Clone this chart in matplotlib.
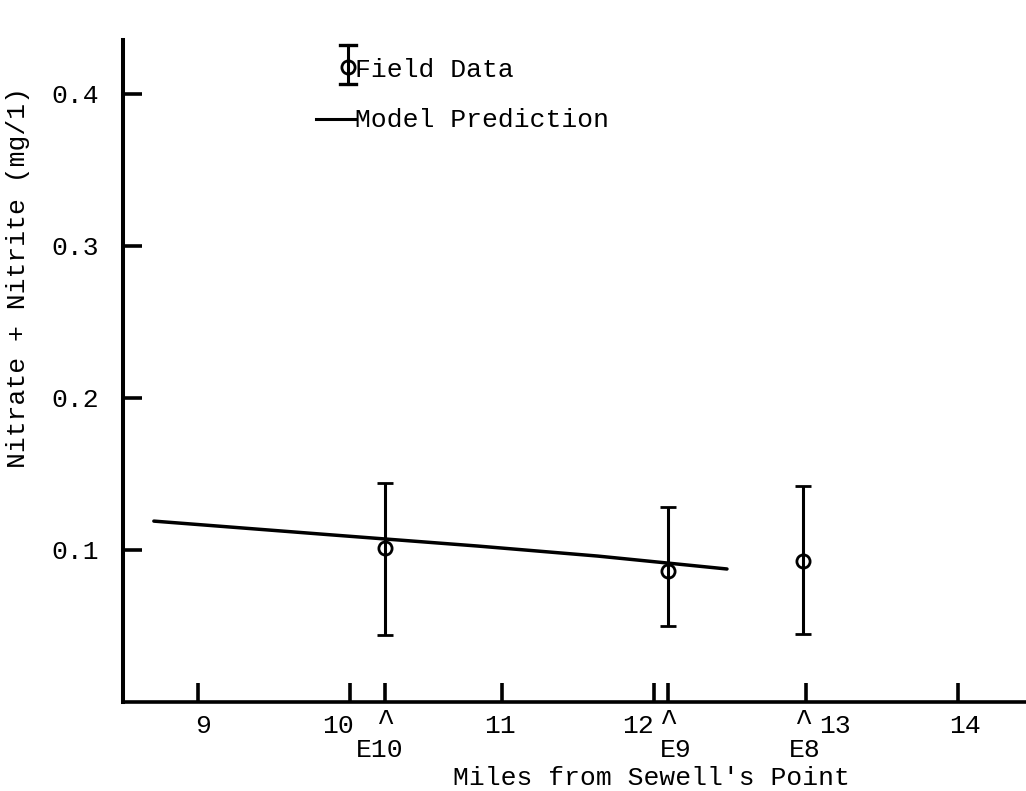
import matplotlib
matplotlib.use("Agg")
import matplotlib.pyplot as plt
import numpy as np

# ---------------- data ----------------
stations = ["E10", "E9", "E8"]
station_mile = [10.23, 12.09, 12.98]
field_mean = [0.101, 0.086, 0.093]
field_low = [0.044, 0.050, 0.045]
field_high = [0.144, 0.128, 0.142]

model_mile = [8.71, 9.87, 10.84, 11.63, 12.48]
model_value = [0.119, 0.110, 0.1026, 0.096, 0.0875]

mile_ticks = [9, 10, 11, 12, 13, 14]
mile_tick_labels = ["9", "10", "11", "12", "13", "14"]
conc_ticks = [0.1, 0.2, 0.3, 0.4]
conc_tick_labels = ["0.1", "0.2", "0.3", "0.4"]

# ---------------- style ----------------
plt.rcParams["font.family"] = ["Liberation Mono", "DejaVu Sans Mono"]
FS = 19
LW = 2.6

fig = plt.figure(figsize=(10.26, 7.91), dpi=100)
W, H = 1026, 791
ax = fig.add_axes([123 / W, 1 - 702 / H, 903 / W, 662 / H])
ax.set_xlim(8.507, 14.447)
ax.set_ylim(0, 0.4355)

for s in ["top", "right"]:
    ax.spines[s].set_visible(False)
ax.spines["left"].set_linewidth(LW + 0.3)
ax.spines["bottom"].set_linewidth(LW)

# model line
ax.plot(model_mile, model_value, color="black", lw=2.5, solid_capstyle="round")

# field data
mean = np.array(field_mean)
yerr = [mean - np.array(field_low), np.array(field_high) - mean]
ax.errorbar(station_mile, field_mean, yerr=yerr, fmt="o", mfc="none", mec="black",
            ms=9.5, mew=2.0, ecolor="black", elinewidth=2.2, capsize=6, capthick=2.4)

# ticks
ax.set_yticks(conc_ticks)
ax.set_yticklabels(conc_tick_labels, fontsize=FS)
ax.tick_params(axis="y", direction="in", length=14, width=LW, pad=17)
ax.set_xticks(sorted(set(mile_ticks + station_mile[:2])))
ax.set_xticklabels([])
ax.tick_params(axis="x", direction="in", length=13.5, width=LW)

# x tick labels (typewritten, slightly shifted around station carets)
label_dx = [5, -12, -2, -16, 29, 7]
for x, lab, dx in zip(mile_ticks, mile_tick_labels, label_dx):
    ax.annotate(lab, xy=(x, 0), xycoords=("data", "axes fraction"),
                xytext=(dx, -31), textcoords="offset pixels",
                ha="center", va="baseline", fontsize=FS, annotation_clip=False)

station_dx = [-5, 8, 2]
for x, lab, dx in zip(station_mile, stations, station_dx):
    ax.annotate("^", xy=(x, 0), xycoords=("data", "axes fraction"),
                xytext=(0, -29), textcoords="offset pixels",
                ha="center", va="baseline", fontsize=FS + 3, annotation_clip=False)
    ax.annotate(lab, xy=(x, 0), xycoords=("data", "axes fraction"),
                xytext=(dx, -55), textcoords="offset pixels",
                ha="center", va="baseline", fontsize=FS, annotation_clip=False)

# axis labels
ax.set_xlabel("Miles from Sewell's Point", fontsize=FS, ha="left", va="baseline")
ax.xaxis.set_label_coords(0.3654, -0.1254)
ax.set_ylabel("Nitrate + Nitrite (mg/1)", fontsize=FS, ha="center", va="center")
ax.yaxis.set_label_coords(-0.1163, 0.6405)

# legend (hand-made, typewriter style)
T = ax.transAxes
lx = (348 - 123) / 903
ly_c = (702 - 67) / 662
ly_lo = (702 - 84) / 662
ly_hi = (702 - 45) / 662
cap = 8 / 903
ax.plot([lx, lx], [ly_lo, ly_hi], color="black", lw=2.2, transform=T, clip_on=False)
ax.plot([lx - cap, lx + cap], [ly_lo, ly_lo], color="black", lw=2.4, transform=T, clip_on=False)
ax.plot([lx - cap, lx + cap], [ly_hi, ly_hi], color="black", lw=2.4, transform=T, clip_on=False)
ax.plot([lx], [ly_c], "o", mfc="none", mec="black", ms=9.5, mew=2.0, transform=T, clip_on=False)
ax.text((355 - 123) / 903, (702 - 77) / 662, "Field Data", transform=T,
        ha="left", va="baseline", fontsize=FS)
ax.plot([(316 - 123) / 903, (355 - 123) / 903], [(702 - 119) / 662] * 2,
        color="black", lw=2.2, transform=T, clip_on=False)
ax.text((355 - 123) / 903, (702 - 127) / 662, "Model Prediction", transform=T,
        ha="left", va="baseline", fontsize=FS)

fig.savefig("out.png", dpi=100, facecolor="white")
